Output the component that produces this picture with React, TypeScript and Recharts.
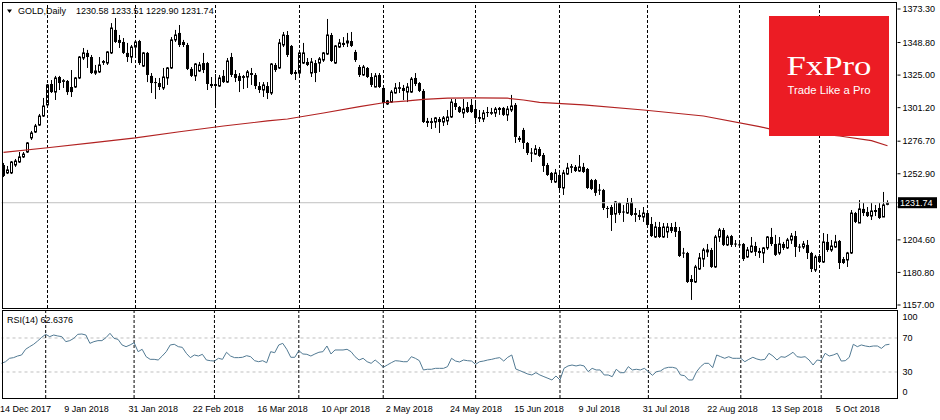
import React from 'react';
import { ComposedChart, Bar, Line, XAxis, YAxis, ReferenceLine } from 'recharts';

// ---------- data ----------
// daily GOLD candles [open, high, low, close], 14 Dec 2017 .. 24 Oct 2018
const ohlc: [number, number, number, number][] = [
  [1259.3, 1260.8, 1250.5, 1251.3], [1253.5, 1258.6, 1252.7, 1255.7], [1253.5, 1262.2, 1252.7, 1261.5], [1259.3, 1263.7, 1257.9, 1262.2],
  [1261.5, 1268.8, 1260.8, 1265.2], [1265.2, 1268.8, 1264.4, 1267.3], [1268.8, 1276.1, 1268.1, 1275.4], [1279.1, 1284.2, 1277.6, 1282.7],
  [1283.4, 1289.3, 1282.7, 1287.8], [1288.5, 1296.6, 1287.8, 1295.1], [1295.1, 1308.3, 1294.4, 1302.4], [1303.2, 1318.5, 1301.7, 1317.8],
  [1318.5, 1321.4, 1311.9, 1312.6], [1312.6, 1324.4, 1306.8, 1322.9], [1323.6, 1324.4, 1314.1, 1319.2], [1320.4, 1322.1, 1315.6, 1320.9],
  [1320.7, 1321.4, 1310.5, 1312.6], [1316.3, 1328.7, 1309.0, 1312.6], [1316.3, 1323.6, 1315.6, 1322.9], [1322.9, 1338.9, 1322.1, 1338.2],
  [1337.5, 1344.8, 1336.0, 1341.2], [1341.2, 1343.4, 1330.2, 1338.2], [1338.2, 1339.7, 1325.8, 1326.5], [1326.5, 1332.4, 1325.1, 1328.0],
  [1327.3, 1338.2, 1326.5, 1332.4], [1334.3, 1336.0, 1332.4, 1334.9], [1333.8, 1342.5, 1332.4, 1341.9], [1341.2, 1363.0, 1340.4, 1359.4],
  [1358.0, 1366.7, 1348.5, 1349.2], [1350.7, 1354.3, 1344.8, 1348.5], [1349.2, 1352.1, 1340.4, 1341.2], [1341.2, 1348.5, 1334.6, 1338.2],
  [1338.2, 1347.0, 1333.8, 1345.5], [1345.5, 1350.7, 1338.2, 1349.2], [1349.9, 1350.7, 1332.4, 1333.8], [1331.6, 1341.9, 1330.9, 1341.2],
  [1341.2, 1341.9, 1319.9, 1325.1], [1324.4, 1326.5, 1311.9, 1319.2], [1319.9, 1322.9, 1307.5, 1319.5], [1319.2, 1322.9, 1314.1, 1316.3],
  [1315.6, 1330.2, 1314.1, 1323.6], [1322.9, 1330.9, 1317.8, 1330.2], [1330.2, 1352.8, 1329.5, 1350.7], [1350.7, 1358.0, 1349.2, 1354.3],
  [1355.8, 1361.6, 1345.5, 1347.0], [1349.2, 1350.7, 1345.5, 1347.0], [1347.0, 1348.5, 1328.7, 1329.5], [1329.5, 1330.9, 1323.6, 1324.4],
  [1324.4, 1333.8, 1320.7, 1333.1], [1328.0, 1334.6, 1327.3, 1332.4], [1333.8, 1341.2, 1326.5, 1328.7], [1333.8, 1334.6, 1314.1, 1318.5],
  [1318.5, 1323.6, 1315.6, 1317.0], [1317.4, 1325.8, 1301.7, 1318.1], [1317.0, 1325.1, 1316.3, 1322.9], [1324.4, 1328.7, 1319.2, 1319.9],
  [1319.9, 1337.5, 1319.2, 1335.3], [1338.2, 1341.2, 1323.6, 1325.1], [1325.8, 1328.7, 1319.9, 1322.9], [1324.4, 1326.5, 1312.6, 1320.7],
  [1323.3, 1325.1, 1314.8, 1323.9], [1323.6, 1328.7, 1315.6, 1327.3], [1326.5, 1330.2, 1317.8, 1325.1], [1325.1, 1326.5, 1314.8, 1317.0],
  [1317.0, 1319.9, 1311.9, 1314.1], [1314.1, 1319.9, 1309.0, 1317.8], [1317.0, 1319.9, 1307.5, 1311.9], [1311.9, 1333.8, 1310.5, 1333.1],
  [1332.4, 1333.8, 1327.3, 1328.7], [1330.2, 1351.4, 1329.5, 1348.5], [1347.0, 1356.5, 1345.5, 1354.3], [1354.3, 1357.2, 1338.2, 1339.7],
  [1346.3, 1347.0, 1325.1, 1325.8], [1326.2, 1328.7, 1321.4, 1326.9], [1326.5, 1343.4, 1325.1, 1341.2], [1333.8, 1348.5, 1333.1, 1341.2],
  [1334.6, 1337.5, 1331.6, 1332.4], [1326.5, 1337.5, 1323.6, 1334.6], [1333.8, 1336.0, 1319.9, 1326.5], [1333.8, 1338.2, 1327.3, 1336.8],
  [1336.0, 1341.9, 1334.6, 1341.2], [1340.4, 1366.0, 1339.7, 1354.3], [1354.3, 1355.8, 1334.6, 1335.3], [1333.8, 1347.0, 1333.1, 1346.3],
  [1345.5, 1351.4, 1344.8, 1348.5], [1348.5, 1352.8, 1345.5, 1347.0], [1348.5, 1355.8, 1345.5, 1349.9], [1349.9, 1356.5, 1345.5, 1346.3],
  [1341.9, 1343.4, 1334.6, 1336.0], [1330.9, 1332.4, 1323.6, 1325.1], [1325.1, 1332.4, 1324.4, 1330.9], [1330.2, 1330.9, 1322.9, 1323.6],
  [1323.6, 1326.5, 1316.3, 1317.8], [1316.3, 1326.5, 1316.0, 1324.4], [1325.1, 1326.5, 1315.6, 1316.3], [1315.6, 1316.3, 1303.2, 1304.6],
  [1303.9, 1306.8, 1303.2, 1306.1], [1305.3, 1314.1, 1304.6, 1312.6], [1311.9, 1319.2, 1311.5, 1315.6], [1315.3, 1319.9, 1311.9, 1315.8],
  [1315.6, 1317.8, 1306.8, 1313.4], [1312.6, 1319.2, 1305.3, 1316.3], [1312.6, 1323.6, 1311.9, 1322.1], [1322.9, 1326.5, 1317.0, 1318.5],
  [1319.2, 1319.9, 1312.6, 1313.4], [1313.4, 1314.8, 1290.0, 1290.7], [1291.5, 1293.7, 1287.1, 1290.0], [1290.4, 1293.7, 1285.6, 1291.0],
  [1290.7, 1294.4, 1286.4, 1293.7], [1292.9, 1294.4, 1282.7, 1290.7], [1290.7, 1295.1, 1287.8, 1293.7], [1291.5, 1299.5, 1288.5, 1294.4],
  [1294.4, 1307.5, 1293.7, 1305.3], [1304.6, 1307.5, 1299.5, 1301.7], [1301.7, 1302.4, 1297.3, 1298.0], [1297.3, 1307.5, 1293.7, 1300.2],
  [1301.7, 1305.3, 1297.3, 1298.0], [1303.2, 1307.5, 1297.3, 1298.0], [1300.2, 1306.8, 1289.3, 1293.7], [1293.4, 1299.5, 1290.7, 1294.0],
  [1292.9, 1299.5, 1290.7, 1297.3], [1298.0, 1301.7, 1294.4, 1297.3], [1297.1, 1301.0, 1295.9, 1297.6], [1297.3, 1301.7, 1294.4, 1300.2],
  [1301.0, 1301.7, 1295.9, 1299.5], [1301.0, 1301.7, 1295.1, 1295.9], [1295.9, 1302.4, 1291.5, 1300.2], [1299.5, 1310.5, 1298.0, 1302.4],
  [1303.2, 1304.6, 1275.4, 1279.8], [1279.1, 1280.5, 1276.1, 1277.6], [1284.9, 1286.4, 1271.0, 1275.4], [1275.4, 1276.1, 1266.6, 1268.1],
  [1268.4, 1271.7, 1261.5, 1268.1], [1267.3, 1273.9, 1266.6, 1271.0], [1271.0, 1272.5, 1265.2, 1265.9], [1266.6, 1268.1, 1254.2, 1258.6],
  [1259.3, 1260.8, 1251.3, 1252.0], [1253.5, 1254.2, 1246.2, 1248.3], [1246.9, 1256.4, 1246.2, 1253.5], [1252.0, 1255.7, 1241.0, 1242.5],
  [1242.5, 1255.7, 1237.4, 1253.5], [1252.7, 1260.8, 1252.0, 1257.1], [1257.6, 1260.0, 1253.5, 1258.1], [1257.9, 1259.3, 1254.2, 1254.9],
  [1254.9, 1266.6, 1254.2, 1257.9], [1257.9, 1260.8, 1253.5, 1254.2], [1256.4, 1257.1, 1241.8, 1242.5], [1248.3, 1249.1, 1241.0, 1241.8],
  [1248.3, 1249.1, 1236.7, 1238.9], [1241.3, 1245.4, 1237.4, 1240.7], [1241.0, 1241.8, 1226.4, 1227.9], [1227.9, 1229.3, 1220.6, 1227.2],
  [1228.6, 1230.1, 1211.1, 1222.8], [1223.5, 1233.0, 1216.9, 1232.3], [1231.5, 1232.3, 1222.8, 1224.2], [1225.3, 1230.1, 1217.7, 1224.7],
  [1224.2, 1235.2, 1223.5, 1231.5], [1232.3, 1235.2, 1222.0, 1222.8], [1223.2, 1227.9, 1217.7, 1223.8], [1222.8, 1226.4, 1219.1, 1221.3],
  [1221.3, 1228.6, 1217.7, 1224.2], [1224.2, 1225.0, 1214.0, 1215.5], [1216.2, 1221.3, 1206.7, 1207.4], [1206.7, 1217.7, 1206.0, 1214.0],
  [1214.0, 1217.7, 1206.0, 1206.7], [1206.7, 1216.9, 1206.0, 1214.0], [1210.4, 1216.9, 1206.0, 1214.0], [1214.0, 1216.9, 1209.6, 1211.1],
  [1214.0, 1217.7, 1206.7, 1210.4], [1211.1, 1214.0, 1192.1, 1192.8], [1195.3, 1198.7, 1191.4, 1194.7], [1195.0, 1195.8, 1173.1, 1173.8],
  [1176.0, 1178.9, 1160.7, 1173.8], [1173.8, 1186.3, 1173.1, 1184.8], [1183.3, 1195.0, 1182.6, 1191.4], [1190.6, 1198.7, 1184.8, 1197.2],
  [1195.8, 1201.6, 1192.1, 1197.2], [1197.2, 1198.7, 1184.1, 1184.8], [1184.8, 1208.2, 1184.1, 1206.7], [1206.7, 1213.3, 1203.1, 1211.8],
  [1211.8, 1213.3, 1200.1, 1200.9], [1200.9, 1208.2, 1200.1, 1206.7], [1207.4, 1208.2, 1199.4, 1200.9], [1201.9, 1204.5, 1199.4, 1201.3],
  [1201.3, 1203.1, 1198.7, 1200.6], [1201.6, 1202.3, 1189.2, 1190.6], [1192.1, 1199.4, 1191.4, 1197.2], [1195.8, 1206.7, 1195.0, 1200.1],
  [1200.1, 1203.1, 1192.8, 1195.8], [1196.5, 1198.7, 1191.4, 1195.0], [1195.0, 1199.4, 1187.7, 1198.7], [1198.7, 1207.4, 1197.2, 1206.7],
  [1206.7, 1213.3, 1200.1, 1201.6], [1201.6, 1208.2, 1192.8, 1193.6], [1195.0, 1206.7, 1193.6, 1201.6], [1201.6, 1203.1, 1197.2, 1198.7],
  [1198.7, 1206.0, 1197.9, 1204.5], [1204.5, 1209.6, 1201.6, 1207.4], [1207.4, 1211.1, 1192.1, 1199.4], [1199.7, 1201.6, 1195.8, 1199.1],
  [1199.4, 1203.8, 1197.9, 1201.6], [1200.9, 1204.5, 1190.6, 1195.0], [1195.0, 1195.8, 1181.1, 1183.3], [1182.6, 1193.6, 1181.1, 1192.1],
  [1192.8, 1194.3, 1187.7, 1188.4], [1188.4, 1209.6, 1187.7, 1203.1], [1203.1, 1208.9, 1195.8, 1197.2], [1197.2, 1204.5, 1195.8, 1200.1],
  [1199.4, 1208.2, 1198.7, 1203.1], [1203.8, 1204.5, 1183.3, 1187.7], [1190.6, 1192.1, 1187.0, 1187.7], [1189.9, 1195.8, 1184.8, 1195.0],
  [1195.0, 1226.4, 1194.3, 1224.2], [1224.2, 1225.0, 1216.9, 1217.7], [1216.9, 1233.7, 1216.9, 1227.2], [1227.2, 1231.5, 1222.0, 1224.2],
  [1225.0, 1228.6, 1221.3, 1222.0], [1222.0, 1231.5, 1219.1, 1225.7], [1226.4, 1230.1, 1222.0, 1225.0], [1227.9, 1231.5, 1219.9, 1220.6],
  [1221.3, 1239.6, 1221.3, 1230.1], [1230.58, 1233.51, 1229.90, 1231.74],
];

// RSI(14) per bar
const rsi: number[] = [
  40.2, 42.1, 46.1, 46.9, 48.8, 50.0, 56.7, 59.8, 62.6, 66.5,
  70.8, 74.3, 71.6, 73.5, 72.4, 71.6, 65.7, 66.9, 69.6, 74.3,
  74.7, 73.5, 63.7, 65.7, 66.9, 66.9, 70.4, 75.5, 69.6, 68.4,
  61.8, 59.8, 61.8, 64.5, 53.9, 56.7, 48.0, 44.9, 44.9, 44.1,
  48.8, 53.9, 61.8, 62.6, 59.8, 59.0, 52.0, 46.9, 50.0, 48.8,
  50.8, 44.1, 43.3, 42.9, 46.1, 44.9, 53.2, 48.8, 46.9, 46.9,
  47.3, 49.2, 48.0, 43.3, 42.1, 43.3, 40.9, 53.9, 52.7, 61.8,
  63.7, 56.7, 47.3, 47.3, 55.1, 51.2, 50.8, 48.8, 51.2, 53.2,
  53.9, 60.6, 51.2, 55.9, 55.9, 55.9, 56.7, 53.9, 48.0, 44.1,
  46.1, 42.1, 40.2, 44.1, 40.2, 35.5, 38.2, 40.9, 43.3, 42.9,
  42.1, 42.1, 48.0, 46.1, 43.3, 32.4, 33.2, 33.2, 34.3, 34.3,
  34.3, 36.3, 46.1, 42.9, 41.8, 44.1, 43.3, 42.9, 39.0, 42.1,
  42.9, 44.1, 44.9, 46.1, 46.9, 42.9, 47.3, 50.0, 33.5, 31.6,
  29.6, 27.6, 26.5, 29.2, 26.5, 24.5, 22.6, 20.6, 25.3, 20.6,
  34.3, 37.1, 38.2, 37.1, 38.2, 37.1, 30.4, 34.3, 32.4, 32.4,
  26.5, 26.5, 24.5, 33.2, 29.2, 29.2, 36.3, 32.4, 33.2, 32.4,
  34.3, 30.4, 26.1, 30.4, 31.2, 34.3, 35.5, 35.5, 34.3, 26.5,
  25.7, 20.6, 20.6, 30.4, 36.3, 40.2, 40.2, 35.1, 50.0, 48.0,
  46.1, 48.0, 46.1, 46.1, 46.1, 42.1, 44.9, 47.3, 45.3, 44.1,
  44.9, 52.0, 48.8, 44.1, 48.0, 47.3, 50.0, 53.2, 48.0, 47.3,
  48.0, 44.1, 38.2, 44.1, 43.3, 52.0, 48.8, 50.0, 52.0, 42.9,
  43.3, 47.3, 62.6, 59.8, 61.8, 60.6, 59.8, 60.6, 60.6, 57.8,
  61.8, 62.64,
];

// moving average readings [bar index, value]
const maPoints: [number, number][] = [
  [0, 1268.5], [11, 1271.9], [22, 1275.4], [33, 1279.1], [44, 1283.6], [55, 1287.8], [66, 1291.5],
  [71, 1292.9], [80, 1297.3], [89, 1301.9], [95, 1304.8], [101, 1306.1], [105, 1307.3], [111, 1308.1],
  [118, 1308.3], [126, 1308.1], [130, 1306.8], [134, 1305.1], [145, 1303.2], [160, 1299.5], [175, 1295.1],
  [189, 1287.3], [192, 1285.4], [209, 1280.5], [217, 1277.1], [221, 1273.4],
];

const dateLabels = [
  '14 Dec 2017', '9 Jan 2018', '31 Jan 2018', '22 Feb 2018', '16 Mar 2018', '10 Apr 2018', '2 May 2018',
  '24 May 2018', '15 Jun 2018', '9 Jul 2018', '31 Jul 2018', '22 Aug 2018', '13 Sep 2018', '5 Oct 2018',
];
const labelStep = 16;
const separatorBars = [11, 33, 53, 74, 95, 118, 139, 161, 184, 204];
const lastPrice = 1231.74;
const hiddenTick = 1228.7; // scale mark hidden behind the last-price tag
const priceTicks = [1373.3, 1348.8, 1325.0, 1301.2, 1276.7, 1252.9, hiddenTick, 1204.6, 1180.8, 1157.0, lastPrice];
const rsiTicks = [0, 30, 70, 100];
const rsiLevels = [30, 70];
const symbolTitle = 'GOLD,Daily';
const lastBarText = '1230.58 1233.51 1229.90 1231.74';
const rsiTitle = 'RSI(14) 62.6376';
const slotCount = 224;

const maMap = new Map<number, number>(maPoints);
const data = Array.from({ length: slotCount }, (_, i) => {
  const c = ohlc[i];
  return {
    i,
    hl: c ? [c[2], c[1]] : null,
    o: c ? c[0] : null,
    h: c ? c[1] : null,
    l: c ? c[2] : null,
    c: c ? c[3] : null,
    ma: maMap.has(i) ? maMap.get(i) : null,
    rsi: i < rsi.length ? rsi[i] : null,
  };
});

const FONT = '"Liberation Sans", Arial, sans-serif';

const Candle = (props: any) => {
  const { x, y, width, height, payload } = props;
  if (!payload || payload.h == null) return null;
  const { o, h, l, c } = payload;
  const cx = Math.floor(x + width / 2) + 0.5;
  const span = h - l || 1;
  const yv = (v: number) => y + ((h - v) / span) * height;
  const yo = yv(o);
  const yc = yv(c);
  const top = Math.min(yo, yc);
  const bot = Math.max(yo, yc);
  const bull = c >= o;
  return (
    <g>
      <line x1={cx} x2={cx} y1={y} y2={y + height} stroke="#000" strokeWidth={1} />
      {bull ? (
        <rect x={cx - 1} y={top} width={2} height={Math.max(bot - top, 0.3)} fill="#fff" stroke="#000" strokeWidth={1} />
      ) : (
        <rect x={cx - 1.5} y={top} width={3} height={Math.max(bot - top, 1)} fill="#000" />
      )}
    </g>
  );
};

const PriceTick = (p: any) => {
  const v = p.payload.value;
  if (v === hiddenTick) return null;
  if (v === lastPrice) {
    return (
      <g>
        <rect x={898} y={p.y - 5.5} width={39} height={11} fill="#000" />
        <text x={900} y={p.y} dy="0.35em" fill="#fff" fontSize={9} fontFamily={FONT}>{v.toFixed(2)}</text>
      </g>
    );
  }
  return (
    <text x={902.5} y={p.y} dy="0.35em" fill="#000" fontSize={9} fontFamily={FONT}>{v.toFixed(2)}</text>
  );
};

const RsiTick = (p: any) => {
  const v = p.payload.value;
  const off = v === 100 ? 4.5 : v === 0 ? -5.5 : 0;
  return (
    <text x={902.5} y={p.y + off} dy="0.35em" fill="#000" fontSize={9} fontFamily={FONT}>{String(v)}</text>
  );
};

const DateTick = (p: any) => {
  const idx = p.payload.value;
  if (idx % labelStep !== 0) return null;
  const lbl = dateLabels[idx / labelStep];
  if (!lbl) return null;
  return (
    <text x={p.x - 1.5} y={101.5} fill="#000" fontSize={9} fontFamily={FONT} textAnchor="start">{lbl}</text>
  );
};

export default function App() {
  return (
    <div style={{ position: 'absolute', left: 0, top: 0, width: 940, height: 420, background: '#fff', overflow: 'hidden' }}>
      <div style={{ position: 'absolute', left: 0, top: 0 }}>
        <ComposedChart width={940} height={310} data={data} margin={{ top: 2, right: 0, bottom: 2, left: 1.5 }}>
          <XAxis dataKey="i" type="category" hide />
          <YAxis
            orientation="right"
            width={42.5}
            domain={[1154.81, 1378.41]}
            allowDataOverflow
            ticks={priceTicks}
            interval={0}
            axisLine={false}
            tickLine={{ stroke: '#000' }}
            tickSize={3}
            tick={<PriceTick />}
          />
          <ReferenceLine y={lastPrice} stroke="#c0c0c0" />
          {separatorBars.map((s) => (
            <ReferenceLine key={s} x={s} stroke="#000" strokeDasharray="3 2" />
          ))}
          <Line dataKey="ma" stroke="#b22222" strokeWidth={1.2} dot={false} connectNulls isAnimationActive={false} />
          <Bar dataKey="hl" isAnimationActive={false} shape={(p: any) => <Candle {...p} />} />
        </ComposedChart>
      </div>
      <div style={{ position: 'absolute', left: 0, top: 310 }}>
        <ComposedChart width={940} height={110} data={data} margin={{ top: 1, right: 0, bottom: 0, left: 1.5 }}>
          <XAxis dataKey="i" type="category" interval={0} height={22} axisLine={false} tickLine={false} tick={<DateTick />} />
          <YAxis
            orientation="right"
            width={42.5}
            domain={[-0.59, 101.76]}
            allowDataOverflow
            ticks={rsiTicks}
            interval={0}
            axisLine={false}
            tickLine={false}
            tickSize={3}
            tick={<RsiTick />}
          />
          {rsiLevels.map((lv) => (
            <ReferenceLine key={lv} y={lv} stroke="#c0c0c0" strokeDasharray="3 3" />
          ))}
          {separatorBars.map((s) => (
            <ReferenceLine key={s} x={s} stroke="#000" strokeDasharray="3 2" />
          ))}
          <Line dataKey="rsi" stroke="#527a93" strokeWidth={1} dot={false} isAnimationActive={false} />
        </ComposedChart>
      </div>
      {/* panel frames */}
      <div style={{ position: 'absolute', left: 2, top: 2, width: 895, height: 307, border: '1px solid #000', boxSizing: 'border-box', pointerEvents: 'none' }} />
      <div style={{ position: 'absolute', left: 2, top: 310, width: 896, height: 89, border: '1px solid #000', boxSizing: 'border-box', pointerEvents: 'none' }} />
      {/* titles and watermark */}
      <svg width={940} height={420} style={{ position: 'absolute', left: 0, top: 0, pointerEvents: 'none' }}>
        <polygon points="7,9.5 12,9.5 9.5,13" fill="#000" />
        <text x={18} y={13.5} fontSize={9} fontFamily={FONT} fill="#000">{symbolTitle}</text>
        <text x={76} y={13.5} fontSize={9} fontFamily={FONT} fill="#000">{lastBarText}</text>
        <text x={7} y={323} fontSize={9} fontFamily={FONT} fill="#000">{rsiTitle}</text>
        <rect x={769} y={16} width={120} height={120} fill="#ec1c24" />
        <text x={829} y={75} fontSize={28} fontFamily='"Liberation Serif", "DejaVu Serif", serif' fill="#fff" textAnchor="middle" textLength={85} lengthAdjust="spacingAndGlyphs">FxPro</text>
        <text x={829} y={94.3} fontSize={10} fontFamily={FONT} fill="#fff" textAnchor="middle" textLength={83} lengthAdjust="spacingAndGlyphs">Trade Like a Pro</text>
      </svg>
    </div>
  );
}
